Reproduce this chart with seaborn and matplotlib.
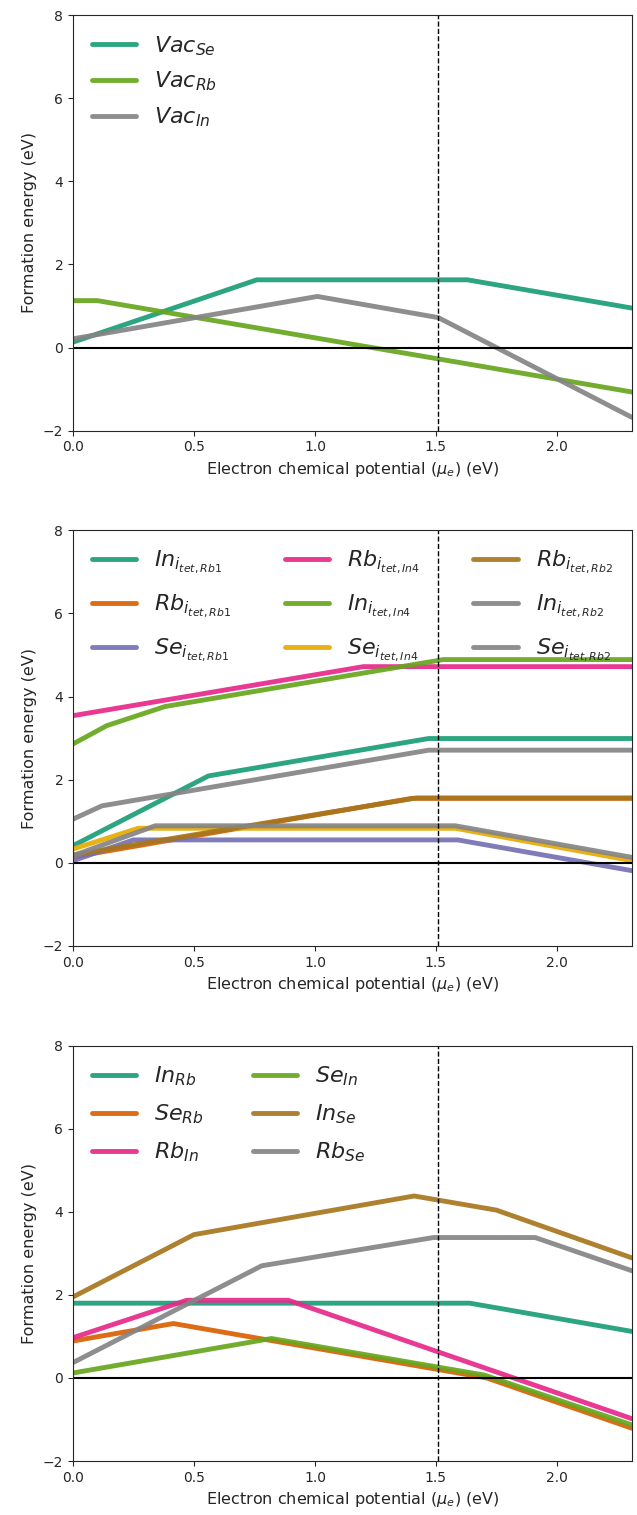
import numpy as np
import pandas as pd
import matplotlib
matplotlib.use("Agg")
import matplotlib.pyplot as plt
import seaborn as sns

sns.set_style("ticks")
plt.rcParams['font.family'] = ['DejaVu Sans']

pal = sns.color_palette('Dark2', 8)
pal[7] = '#848484'   # grey in the reference is lighter than Dark2's

# panel 1 : vacancies
vac_se_x = [0.0, 0.76, 1.63, 2.31]
vac_se_y = [0.13, 1.63, 1.63, 0.95]
vac_rb_x = [0.0, 0.10, 2.31]
vac_rb_y = [1.13, 1.13, -1.07]
vac_in_x = [0.0, 1.01, 1.51, 2.31]
vac_in_y = [0.21, 1.23, 0.72, -1.68]

# panel 2 : tetrahedral interstitials
in_rb1_x = [0.0, 0.56, 1.47, 2.31]
in_rb1_y = [0.41, 2.09, 2.99, 2.99]
rb_rb1_x = [0.0, 1.40, 2.31]
rb_rb1_y = [0.14, 1.55, 1.55]
se_rb1_x = [0.0, 0.25, 1.59, 2.31]
se_rb1_y = [0.05, 0.55, 0.55, -0.19]
rb_in4_x = [0.0, 1.20, 2.31]
rb_in4_y = [3.54, 4.72, 4.72]
in_in4_x = [0.0, 0.14, 0.38, 1.53, 2.31]
in_in4_y = [2.86, 3.30, 3.76, 4.89, 4.89]
se_in4_x = [0.0, 0.27, 1.58, 2.31]
se_in4_y = [0.33, 0.83, 0.83, 0.05]
rb_rb2_x = [0.0, 1.42, 2.31]
rb_rb2_y = [0.19, 1.56, 1.56]
in_rb2_x = [0.0, 0.12, 1.47, 2.31]
in_rb2_y = [1.05, 1.37, 2.71, 2.71]
se_rb2_x = [0.0, 0.34, 1.58, 2.31]
se_rb2_y = [0.17, 0.89, 0.89, 0.13]

# panel 3 : antisites
in_rb_x = [0.0, 1.64, 2.31]
in_rb_y = [1.80, 1.80, 1.12]
se_rb_x = [0.0, 0.415, 1.71, 2.31]
se_rb_y = [0.89, 1.31, 0.0, -1.21]
rb_in_x = [0.0, 0.47, 0.89, 2.31]
rb_in_y = [0.97, 1.87, 1.87, -0.98]
se_in_x = [0.0, 0.82, 1.70, 2.31]
se_in_y = [0.12, 0.95, 0.07, -1.13]
in_se_x = [0.0, 0.50, 1.41, 1.75, 2.31]
in_se_y = [1.95, 3.45, 4.38, 4.04, 2.89]
rb_se_x = [0.0, 0.78, 1.49, 1.91, 2.31]
rb_se_y = [0.37, 2.70, 3.38, 3.38, 2.58]

panel1 = [
    (r'$Vac_{Se}$', vac_se_x, vac_se_y, pal[0]),
    (r'$Vac_{Rb}$', vac_rb_x, vac_rb_y, pal[4]),
    (r'$Vac_{In}$', vac_in_x, vac_in_y, pal[7]),
]
panel2 = [
    (r'$In_{i_{tet,Rb1}}$', in_rb1_x, in_rb1_y, pal[0]),
    (r'$Rb_{i_{tet,Rb1}}$', rb_rb1_x, rb_rb1_y, pal[1]),
    (r'$Se_{i_{tet,Rb1}}$', se_rb1_x, se_rb1_y, pal[2]),
    (r'$Rb_{i_{tet,In4}}$', rb_in4_x, rb_in4_y, pal[3]),
    (r'$In_{i_{tet,In4}}$', in_in4_x, in_in4_y, pal[4]),
    (r'$Se_{i_{tet,In4}}$', se_in4_x, se_in4_y, pal[5]),
    (r'$Rb_{i_{tet,Rb2}}$', rb_rb2_x, rb_rb2_y, pal[6]),
    (r'$In_{i_{tet,Rb2}}$', in_rb2_x, in_rb2_y, pal[7]),
    (r'$Se_{i_{tet,Rb2}}$', se_rb2_x, se_rb2_y, pal[7]),
]
panel3 = [
    (r'$In_{Rb}$', in_rb_x, in_rb_y, pal[0]),
    (r'$Se_{Rb}$', se_rb_x, se_rb_y, pal[1]),
    (r'$Rb_{In}$', rb_in_x, rb_in_y, pal[3]),
    (r'$Se_{In}$', se_in_x, se_in_y, pal[4]),
    (r'$In_{Se}$', in_se_x, in_se_y, pal[6]),
    (r'$Rb_{Se}$', rb_se_x, rb_se_y, pal[7]),
]

fermi_level = 1.51

fig, axes = plt.subplots(3, 1, figsize=(6.37, 15.15), dpi=100)
fig.subplots_adjust(top=0.990, bottom=0.0356, left=0.1146, right=0.992, hspace=0.24)

# legend spacing tweaks per panel
leg_opts = [
    dict(ncol=1, labelspacing=0.55, columnspacing=2.0),
    dict(ncol=3, labelspacing=0.75, columnspacing=2.4),
    dict(ncol=2, labelspacing=0.65, columnspacing=2.2),
]

for ax, series, lo in zip(axes, [panel1, panel2, panel3], leg_opts):
    for label, xs, ys, col in series:
        df = pd.DataFrame({'mu': xs, 'E': ys})
        sns.lineplot(data=df, x='mu', y='E', ax=ax, color=col, lw=3.5,
                     alpha=0.92, label=label, sort=False, estimator=None)
    ax.axhline(0, color='black', lw=1.5)
    ax.axvline(fermi_level, color='black', ls='--', lw=1)
    ax.set_xlim(0, 2.31)
    ax.set_ylim(-2, 8)
    ax.set_xticks([0.0, 0.5, 1.0, 1.5, 2.0])
    ax.set_yticks([-2, 0, 2, 4, 6, 8])
    ax.tick_params(labelsize=10)
    ax.set_xlabel(r'Electron chemical potential ($\mu_e$) (eV)', fontsize=11.5)
    ax.set_ylabel('Formation energy (eV)', fontsize=11.5)
    ax.legend(loc='upper left', frameon=False, fontsize=16,
              handlelength=2.0, borderaxespad=0.45, **lo)

fig.savefig('out.png', dpi=100)
